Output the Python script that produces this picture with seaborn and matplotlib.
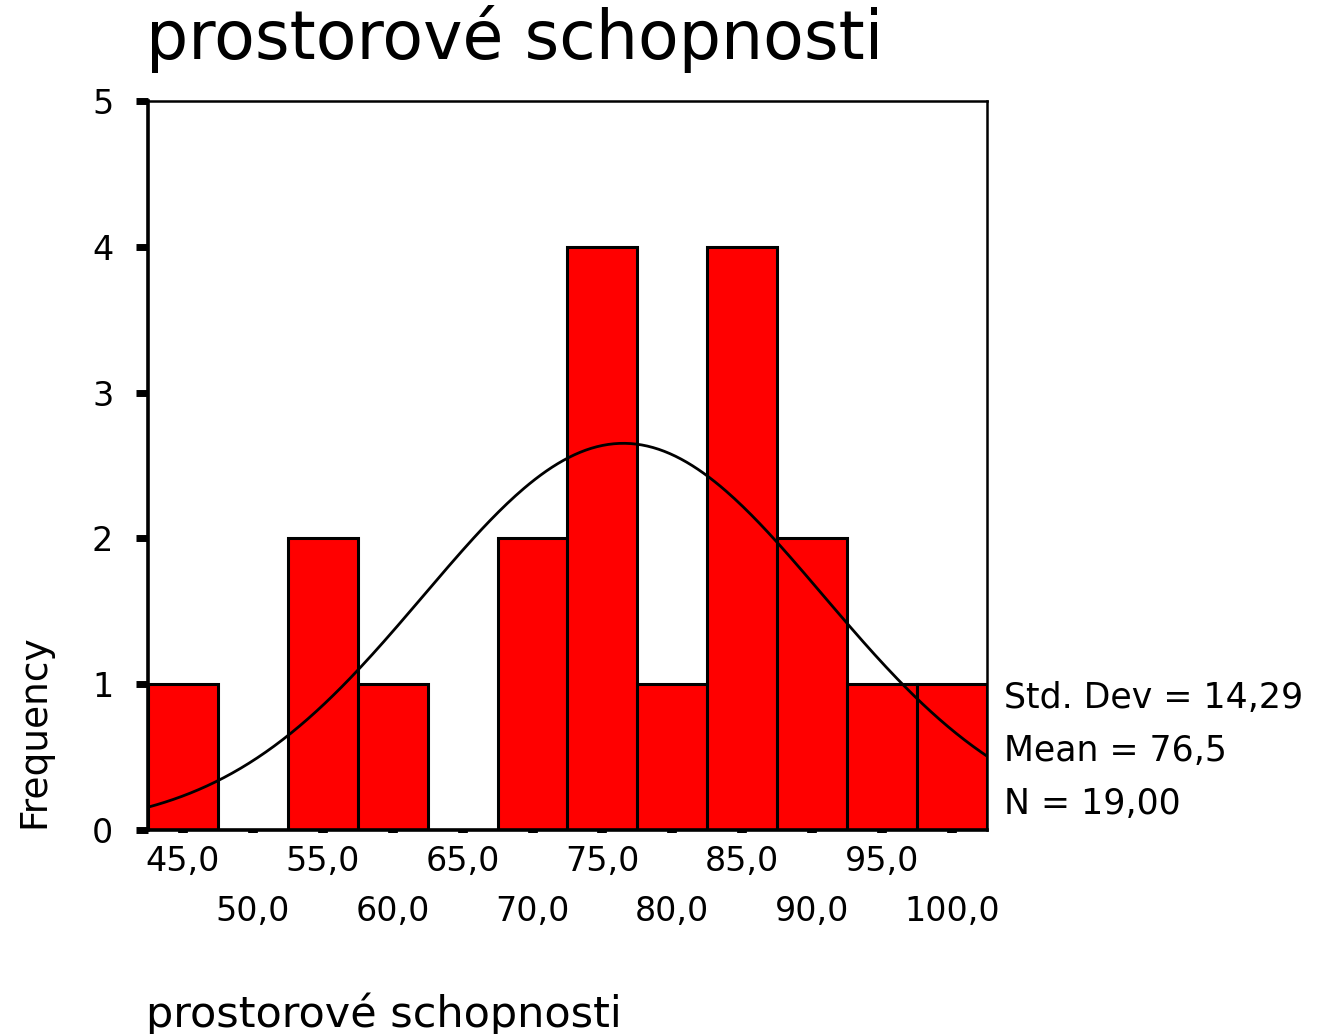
import numpy as np
import pandas as pd
import matplotlib
matplotlib.use("Agg")
import matplotlib.pyplot as plt
import seaborn as sns

# histogram data (bin centers, width 5)
bin_centers = [45, 50, 55, 60, 65, 70, 75, 80, 85, 90, 95, 100]
counts = [1, 0, 2, 1, 0, 2, 4, 1, 4, 2, 1, 1]
tick_labels = ["45,0", "50,0", "55,0", "60,0", "65,0", "70,0",
               "75,0", "80,0", "85,0", "90,0", "95,0", "100,0"]
std_dev = 14.29
mean = 76.5
n = 19
bin_width = 5

sns.set_style("white")
plt.rcParams["font.family"] = ["DejaVu Sans"]
plt.rcParams["text.color"] = "black"

df = pd.DataFrame({"value": bin_centers, "count": counts})
edges = [c - bin_width / 2 for c in bin_centers] + [bin_centers[-1] + bin_width / 2]

fig = plt.figure(figsize=(13.37, 10.34), dpi=100)
ax = fig.add_axes([0.1107, 0.1973, 0.6275, 0.705])

sns.histplot(data=df, x="value", weights="count", bins=edges, ax=ax,
             color="#ff0000", alpha=1, edgecolor="black", linewidth=2.2)

# normal curve from the stated mean / std dev
xs = np.linspace(edges[0], edges[-1], 300)
ys = n * bin_width / (std_dev * np.sqrt(2 * np.pi)) * np.exp(-0.5 * ((xs - mean) / std_dev) ** 2)
sns.lineplot(x=xs, y=ys, ax=ax, color="black", linewidth=2.0)

ax.set_xlim(edges[0], edges[-1])
ax.set_ylim(0, 5)
ax.set_yticks([0, 1, 2, 3, 4, 5])
ax.set_yticklabels(["0", "1", "2", "3", "4", "5"], fontsize=24)

ax.set_xticks(bin_centers[0::2])
ax.set_xticklabels(tick_labels[0::2], fontsize=24)
ax.set_xticks(bin_centers[1::2], minor=True)
ax.set_xticklabels(tick_labels[1::2], minor=True, fontsize=24)
ax.tick_params(axis="x", which="both", bottom=True, direction="out", length=2.5, width=7,
               colors="black", labelcolor="black")
ax.tick_params(axis="x", which="major", pad=8)
ax.tick_params(axis="x", which="minor", pad=44)
ax.tick_params(axis="y", left=True, direction="out", length=9, width=5, pad=16,
               colors="black", labelcolor="black")

for side in ["left", "bottom"]:
    ax.spines[side].set_linewidth(2.6)
for side in ["top", "right"]:
    ax.spines[side].set_linewidth(1.8)
for s in ax.spines.values():
    s.set_color("black")

ax.set_xlabel("")
ax.set_ylabel("")
fig.text(0.012, 0.199, "Frequency", rotation=90, fontsize=27, ha="left", va="bottom")
fig.text(0.109, 0.962, "prostorové schopnosti", fontsize=48, ha="left", va="center")
fig.text(0.109, 0.019, "prostorové schopnosti", fontsize=31, ha="left", va="center")

fig.text(0.751, 0.325, "Std. Dev = 14,29", fontsize=25, va="center", ha="left")
fig.text(0.751, 0.274, "Mean = 76,5", fontsize=25, va="center", ha="left")
fig.text(0.751, 0.222, "N = 19,00", fontsize=25, va="center", ha="left")

fig.savefig("out.png", dpi=100)
